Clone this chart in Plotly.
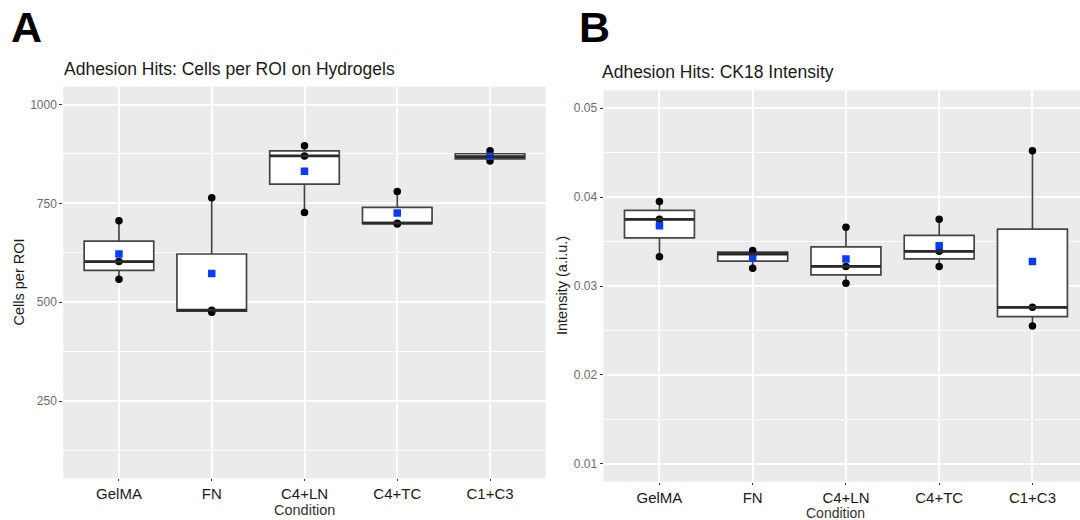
import numpy as np
import plotly.graph_objects as go

# ---------------- data ----------------
categories = ["GelMA", "FN", "C4+LN", "C4+TC", "C1+C3"]

# Panel A: cells per ROI (three replicates per condition)
cells_gelma = [706, 603, 558]
cells_fn = [764, 480, 475]
cells_c4ln = [896, 870, 727]
cells_c4tc = [780, 700, 698]
cells_c1c3 = [883, 868, 857]

# Panel B: CK18 intensity (a.i.u.)
int_gelma = [0.0395, 0.0375, 0.0333]
int_fn = [0.0340, 0.0336, 0.0320]
int_c4ln = [0.0366, 0.0322, 0.0303]
int_c4tc = [0.0375, 0.0339, 0.0322]
int_c1c3 = [0.0452, 0.0276, 0.0255]

cells_ticks = [250, 500, 750, 1000]
int_ticks = [0.01, 0.02, 0.03, 0.04, 0.05]
int_ticktext = ["0.01", "0.02", "0.03", "0.04", "0.05"]

cells_data = [cells_gelma, cells_fn, cells_c4ln, cells_c4tc, cells_c1c3]
int_data = [int_gelma, int_fn, int_c4ln, int_c4tc, int_c1c3]

# ---------------- style ----------------
FONT = "Liberation Sans, Arial, sans-serif"
W, H = 1080, 520
BOX_W = 0.75
BOX_LINE = "#444444"
MEAN_COL = "#0a3cff"


def px(x):
    return x / W


def py(y):
    return 1 - y / H


fig = go.Figure()


def add_panel(data, xa, ya):
    for cat, vals in zip(categories, data):
        fig.add_trace(go.Box(
            y=vals, x=[cat] * len(vals), name=cat, xaxis=xa, yaxis=ya,
            boxpoints=False, quartilemethod="inclusive", width=BOX_W,
            whiskerwidth=0, fillcolor="white",
            line=dict(color=BOX_LINE, width=1.7), showlegend=False,
            hoverinfo="y"))
    # thicker median line (ggplot fatten)
    for i, vals in enumerate(data):
        med = float(np.median(vals))
        fig.add_shape(type="line", xref=xa, yref=ya,
                      x0=i - BOX_W / 2, x1=i + BOX_W / 2, y0=med, y1=med,
                      line=dict(color="#2a2a2a", width=2.8))
    # raw points
    xs, ys = [], []
    for cat, vals in zip(categories, data):
        xs += [cat] * len(vals)
        ys += list(vals)
    fig.add_trace(go.Scatter(x=xs, y=ys, mode="markers", xaxis=xa, yaxis=ya,
                             marker=dict(color="black", size=7.5),
                             showlegend=False))
    # means
    fig.add_trace(go.Scatter(x=categories, y=[float(np.mean(v)) for v in data],
                             mode="markers", xaxis=xa, yaxis=ya,
                             marker=dict(color=MEAN_COL, size=7.5, symbol="square"),
                             showlegend=False))


add_panel(cells_data, "x", "y")
add_panel(int_data, "x2", "y2")

common_x = dict(type="category", categoryorder="array", categoryarray=categories,
                showgrid=True, gridcolor="white", gridwidth=1.6, zeroline=False,
                ticks="outside", ticklen=2, tickwidth=1, tickcolor="#333333",
                tickfont=dict(family=FONT, size=15, color="#1a1a1a"),
                showline=False, fixedrange=True)
common_y = dict(showgrid=True, gridcolor="white", gridwidth=1.6, zeroline=False,
                ticks="outside", ticklen=3, tickwidth=1, tickcolor="#333333",
                tickfont=dict(family=FONT, size=12, color="#6b6b6b"),
                showline=False)

fig.update_layout(
    width=W, height=H,
    paper_bgcolor="white", plot_bgcolor="#EBEBEB",
    margin=dict(l=0, r=0, t=0, b=0),
    font=dict(family=FONT),
    xaxis=dict(common_x, domain=[px(63.3), px(545.7)], range=[-0.6, 4.6], anchor="y"),
    yaxis=dict(common_y, domain=[py(478.3), py(86.7)], range=[55, 1045],
               tickvals=cells_ticks, anchor="x",
               minor=dict(showgrid=True, gridcolor="white", gridwidth=0.9,
                          tick0=0, dtick=125, ticks="")),
    xaxis2=dict(common_x, domain=[px(603.5), 1.0], range=[-0.6, 4.51], anchor="y2"),
    yaxis2=dict(common_y, domain=[py(481.7), py(90.3)], range=[0.008, 0.052],
                tickvals=int_ticks, ticktext=int_ticktext, anchor="x2",
                minor=dict(showgrid=True, gridcolor="white", gridwidth=0.9,
                           tick0=0, dtick=0.005, ticks="")),
)

ann = [
    dict(text="<b>A</b>", x=px(9), y=py(27), xanchor="left", yanchor="middle",
         font=dict(size=43, color="black")),
    dict(text="<b>B</b>", x=px(577), y=py(27), xanchor="left", yanchor="middle",
         font=dict(size=43, color="black")),
    dict(text="Adhesion Hits: Cells per ROI on Hydrogels", x=px(62), y=py(69),
         xanchor="left", yanchor="middle", font=dict(size=17.5, color="#1a1a1a")),
    dict(text="Adhesion Hits: CK18 Intensity", x=px(600), y=py(72.5),
         xanchor="left", yanchor="middle", font=dict(size=17.5, color="#1a1a1a")),
    dict(text="Cells per ROI", x=px(18), y=py(282.5), textangle=-90,
         xanchor="center", yanchor="middle", font=dict(size=14.5, color="#1a1a1a")),
    dict(text="Intensity (a.i.u.)", x=px(562), y=py(286), textangle=-90,
         xanchor="center", yanchor="middle", font=dict(size=14.5, color="#1a1a1a")),
    dict(text="Condition", x=px(304.5), y=py(510), xanchor="center",
         yanchor="middle", font=dict(size=14.5, color="#333333")),
    dict(text="Condition", x=px(835.7), y=py(512.5), xanchor="center",
         yanchor="middle", font=dict(size=14, color="#333333")),
]
for a in ann:
    a.update(xref="paper", yref="paper", showarrow=False)
    a["font"]["family"] = FONT
fig.update_layout(annotations=ann)

fig.write_html("out.html",
               config={"displayModeBar": False},
               post_script="document.body.style.margin='0';"
                           "document.body.style.overflow='hidden';")
